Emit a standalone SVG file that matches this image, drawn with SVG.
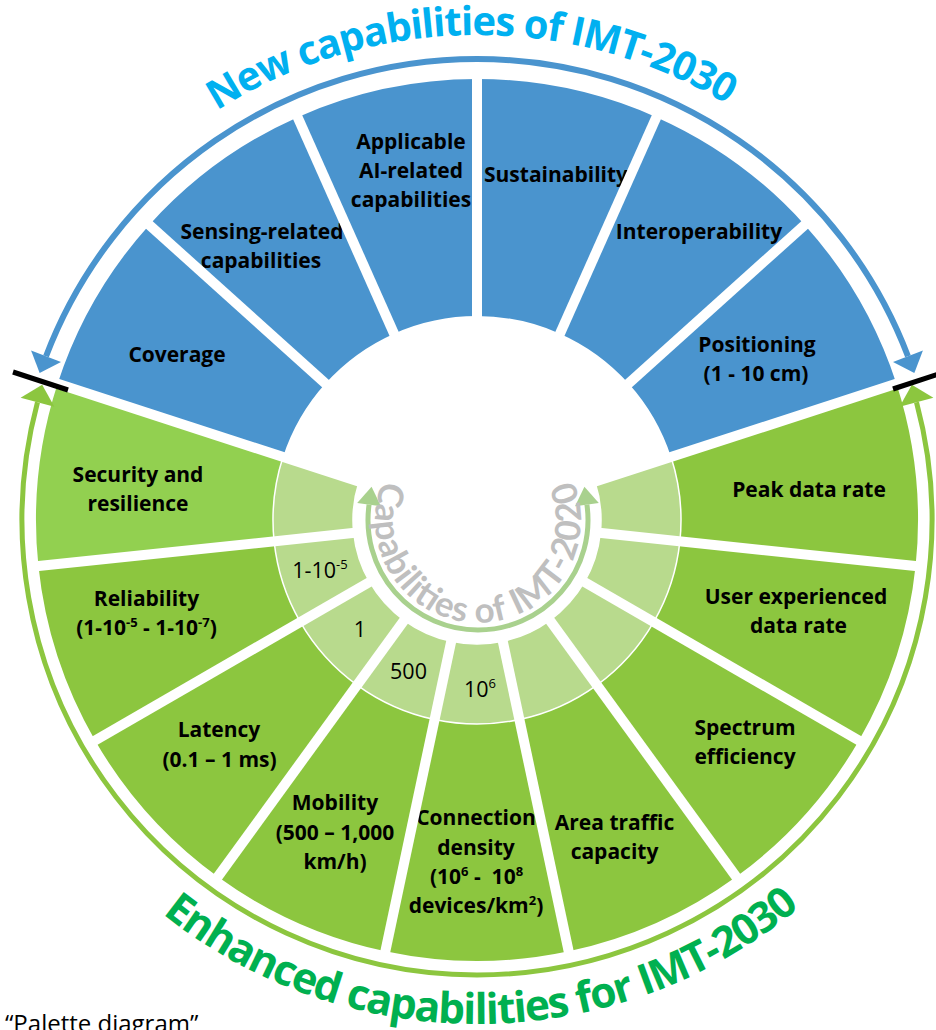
<svg xmlns="http://www.w3.org/2000/svg" width="936" height="1030" viewBox="0 0 936 1030">
<defs>
<style>
.blue{fill:#4A94CE}
.green{fill:#8CC63F}
.green2{fill:#92D050}
.light{fill:#B8DA8D;stroke:#fff;stroke-width:1.5}
.sep{stroke:#fff;stroke-width:10;fill:none}
.lbl{font-family:"Open Sans","Liberation Sans",sans-serif;font-weight:700;font-size:21px;fill:#000;text-anchor:middle}
.val{font-family:"Open Sans","Liberation Sans",sans-serif;font-weight:400;font-size:21.5px;fill:#000;text-anchor:middle}
.sup{font-size:13px}
.title{font-family:"Open Sans","Liberation Sans",sans-serif;font-weight:700}
</style>
<marker id="ahBlue" markerUnits="userSpaceOnUse" markerWidth="40" markerHeight="40" refX="0" refY="0" viewBox="-2 -20 24 40" orient="auto-start-reverse" overflow="visible"><path d="M0,-16 L18,0 L0,16 Z" fill="#4A94CE"/></marker>
<marker id="ahGreen" markerUnits="userSpaceOnUse" markerWidth="40" markerHeight="40" refX="0" refY="0" viewBox="-2 -20 24 40" orient="auto-start-reverse" overflow="visible"><path d="M0,-17.5 L18,0 L0,17.5 Z" fill="#8CC63F"/></marker>
<marker id="ahInner" markerUnits="userSpaceOnUse" markerWidth="40" markerHeight="40" refX="0" refY="0" viewBox="-2 -20 24 40" orient="auto-start-reverse" overflow="visible"><path d="M0,-12 L18,0 L0,12 Z" fill="#A9D18E"/></marker>
<path id="tp" d="M54.05,282.65 A485,485 0 0 1 894.03,272.38"/>
<path id="bp" d="M43.19,776.56 A504,504 0 0 0 916.09,767.41"/>
<path id="ip" d="M382.84,480.37 A103,103 0 1 0 573.16,480.37"/>
</defs>
<rect width="936" height="1030" fill="#fff"/>

<g id="seg-coverage">
<path class="blue" d="M149.27,224.91 A441,441 0 0 0 57.58,383.72 L282.98,456.96 A204,204 0 0 1 325.40,383.50 Z"/>
<text class="lbl" x="177" y="362">Coverage</text>
</g>
<g id="seg-sensing">
<path class="blue" d="M297.63,117.13 A441,441 0 0 0 149.27,224.91 L325.40,383.50 A204,204 0 0 1 394.03,333.64 Z"/>
<text class="lbl" x="262" y="239">Sensing-related</text>
<text class="lbl" x="261" y="268">capabilities</text>
</g>
<g id="seg-ai">
<path class="blue" d="M477,79 A441,441 0 0 0 297.63,117.13 L394.03,333.64 A204,204 0 0 1 477,316 Z"/>
<text class="lbl" x="411" y="148.5">Applicable</text>
<text class="lbl" x="411" y="178">AI-related</text>
<text class="lbl" x="411" y="207">capabilities</text>
</g>
<g id="seg-sustainability">
<path class="blue" d="M656.37,117.13 A441,441 0 0 0 477,79 L477,316 A204,204 0 0 1 559.97,333.64 Z"/>
<text class="lbl" x="556" y="182">Sustainability</text>
</g>
<g id="seg-interoperability">
<path class="blue" d="M804.73,224.91 A441,441 0 0 0 656.37,117.13 L559.97,333.64 A204,204 0 0 1 628.60,383.50 Z"/>
<text class="lbl" x="699" y="239">Interoperability</text>
</g>
<g id="seg-positioning">
<path class="blue" d="M896.42,383.72 A441,441 0 0 0 804.73,224.91 L628.60,383.50 A204,204 0 0 1 671.02,456.96 Z"/>
<text class="lbl" x="757" y="352">Positioning</text>
<text class="lbl" x="756" y="381">(1 - 10 cm)</text>
</g>

<g id="seg-security">
<path class="green2" d="M57.58,383.72 A441,441 0 0 0 38.42,566.10 L274.12,541.32 A204,204 0 0 1 282.98,456.96 Z"/>
<path class="light" d="M282.98,456.96 A204,204 0 0 0 274.12,541.32 L353.68,532.96 A124,124 0 0 1 359.07,481.68 Z"/>
<text class="lbl" x="138" y="482">Security and</text>
<text class="lbl" x="138" y="511">resilience</text>
</g>
<g id="seg-reliability">
<path class="green" d="M38.42,566.10 A441,441 0 0 0 95.08,740.5 L300.33,622 A204,204 0 0 1 274.12,541.32 Z"/>
<path class="light" d="M274.12,541.32 A204,204 0 0 0 300.33,622 L369.61,582 A124,124 0 0 1 353.68,532.96 Z"/>
<text class="lbl" x="146.5" y="605.5">Reliability</text>
<text class="lbl" x="146.5" y="635">(1-10<tspan class="sup" dy="-8">-5</tspan><tspan dy="8"> - 1-10</tspan><tspan class="sup" dy="-8">-7</tspan><tspan dy="8">)</tspan></text>
<text class="val" x="320" y="578">1-10<tspan class="sup" dy="-9">-5</tspan></text>
</g>
<g id="seg-latency">
<path class="green" d="M95.08,740.5 A441,441 0 0 0 217.79,876.78 L357.09,685.04 A204,204 0 0 1 300.33,622 Z"/>
<path class="light" d="M300.33,622 A204,204 0 0 0 357.09,685.04 L404.11,620.32 A124,124 0 0 1 369.61,582 Z"/>
<text class="lbl" x="219" y="737">Latency</text>
<text class="lbl" x="219.5" y="767">(0.1 – 1 ms)</text>
<text class="val" x="360" y="637">1</text>
</g>
<g id="seg-mobility">
<path class="green" d="M217.79,876.78 A441,441 0 0 0 385.31,951.36 L434.59,719.54 A204,204 0 0 1 357.09,685.04 Z"/>
<path class="light" d="M357.09,685.04 A204,204 0 0 0 434.59,719.54 L451.22,641.29 A124,124 0 0 1 404.11,620.32 Z"/>
<text class="lbl" x="335" y="810">Mobility</text>
<text class="lbl" x="335" y="840">(500 – 1,000</text>
<text class="lbl" x="335" y="869">km/h)</text>
<text class="val" x="408.5" y="679">500</text>
</g>
<g id="seg-connection">
<path class="green" d="M385.31,951.36 A441,441 0 0 0 568.69,951.36 L519.41,719.54 A204,204 0 0 1 434.59,719.54 Z"/>
<path class="light" d="M434.59,719.54 A204,204 0 0 0 519.41,719.54 L502.78,641.29 A124,124 0 0 1 451.22,641.29 Z"/>
<text class="lbl" x="476" y="825">Connection</text>
<text class="lbl" x="476" y="855">density</text>
<text class="lbl" x="476.5" y="884">(10<tspan class="sup" dy="-8">6</tspan><tspan dy="8"> -&#160; 10</tspan><tspan class="sup" dy="-8">8</tspan></text>
<text class="lbl" x="476" y="913">devices/km<tspan class="sup" dy="-8">2</tspan><tspan dy="8">)</tspan></text>
<text class="val" x="480" y="697">10<tspan class="sup" dy="-9">6</tspan></text>
</g>
<g id="seg-area-traffic">
<path class="green" d="M568.69,951.36 A441,441 0 0 0 736.21,876.78 L596.91,685.04 A204,204 0 0 1 519.41,719.54 Z"/>
<path class="light" d="M519.41,719.54 A204,204 0 0 0 596.91,685.04 L549.89,620.32 A124,124 0 0 1 502.78,641.29 Z"/>
<text class="lbl" x="614.5" y="830">Area traffic</text>
<text class="lbl" x="614.5" y="859">capacity</text>
</g>
<g id="seg-spectrum">
<path class="green" d="M736.21,876.78 A441,441 0 0 0 858.92,740.5 L653.67,622 A204,204 0 0 1 596.91,685.04 Z"/>
<path class="light" d="M596.91,685.04 A204,204 0 0 0 653.67,622 L584.39,582 A124,124 0 0 1 549.89,620.32 Z"/>
<text class="lbl" x="745" y="735">Spectrum</text>
<text class="lbl" x="745" y="764">efficiency</text>
</g>
<g id="seg-user-rate">
<path class="green" d="M858.92,740.5 A441,441 0 0 0 915.58,566.10 L679.88,541.32 A204,204 0 0 1 653.67,622 Z"/>
<path class="light" d="M653.67,622 A204,204 0 0 0 679.88,541.32 L600.32,532.96 A124,124 0 0 1 584.39,582 Z"/>
<text class="lbl" x="796" y="604">User experienced</text>
<text class="lbl" x="798.5" y="633">data rate</text>
</g>
<g id="seg-peak-rate">
<path class="green" d="M915.58,566.10 A441,441 0 0 0 896.42,383.72 L671.02,456.96 A204,204 0 0 1 679.88,541.32 Z"/>
<path class="light" d="M679.88,541.32 A204,204 0 0 0 671.02,456.96 L594.93,481.68 A124,124 0 0 1 600.32,532.96 Z"/>
<text class="lbl" x="809" y="497">Peak data rate</text>
</g>

<g id="separators">
<line class="sep" x1="589.22" y1="483.54" x2="903.07" y2="381.56"/>
<line class="sep" x1="564.69" y1="441.04" x2="809.93" y2="220.23"/>
<line class="sep" x1="525.00" y1="412.20" x2="659.22" y2="110.73"/>
<line class="sep" x1="477" y1="402" x2="477" y2="72"/>
<line class="sep" x1="429.00" y1="412.20" x2="294.78" y2="110.73"/>
<line class="sep" x1="389.31" y1="441.04" x2="144.07" y2="220.23"/>
<line class="sep" x1="364.78" y1="483.54" x2="50.93" y2="381.56"/>
<line class="sep" x1="359.65" y1="532.33" x2="31.45" y2="566.83"/>
<line class="sep" x1="374.81" y1="579" x2="89.02" y2="744"/>
<line class="sep" x1="407.64" y1="615.46" x2="213.67" y2="882.44"/>
<line class="sep" x1="452.47" y1="635.42" x2="383.86" y2="958.21"/>
<line class="sep" x1="501.53" y1="635.42" x2="570.14" y2="958.21"/>
<line class="sep" x1="546.36" y1="615.46" x2="740.33" y2="882.44"/>
<line class="sep" x1="579.19" y1="579" x2="864.98" y2="744"/>
<line class="sep" x1="594.35" y1="532.33" x2="922.55" y2="566.83"/>
</g>

<g id="connectors">
<path d="M46.04,356.29 A461,461 0 0 1 907.96,356.29" fill="none" stroke="#4A94CE" stroke-width="6" marker-start="url(#ahBlue)" marker-end="url(#ahBlue)"/>
<path d="M37.50,402.24 A455,455 0 1 0 916.50,402.24" fill="none" stroke="#8CC63F" stroke-width="5" marker-start="url(#ahGreen)" marker-end="url(#ahGreen)"/>
<path d="M369.07,504.69 A110,110 0 1 0 586.93,504.69" fill="none" stroke="#A9D18E" stroke-width="5" marker-start="url(#ahInner)" marker-end="url(#ahInner)"/>
<line x1="13" y1="372" x2="68" y2="390" stroke="#000" stroke-width="5"/>
<line x1="893" y1="389" x2="945" y2="372" stroke="#000" stroke-width="5"/>
</g>

<g id="title-new">
<text class="title" font-size="40" fill="#00B0F0"><textPath href="#tp" startOffset="50%" text-anchor="middle" textLength="537" lengthAdjust="spacing">New capabilities of IMT-2030</textPath></text>
</g>
<g id="title-enhanced">
<text class="title" font-size="42.5" fill="#00B050"><textPath href="#bp" startOffset="50%" text-anchor="middle" textLength="690" lengthAdjust="spacing">Enhanced capabilities for IMT-2030</textPath></text>
</g>
<g id="title-2020">
<text font-family="Lato,'Open Sans','Liberation Sans',sans-serif" font-weight="700" font-size="35" fill="#BFBFBF"><textPath href="#ip" textLength="404" lengthAdjust="spacing">Capabilities of IMT-2020</textPath></text>
</g>
<g id="caption">
<text x="5" y="1032" font-family="'Open Sans','Liberation Sans',sans-serif" font-size="24" fill="#000">“Palette diagram”</text>
</g>
</svg>
